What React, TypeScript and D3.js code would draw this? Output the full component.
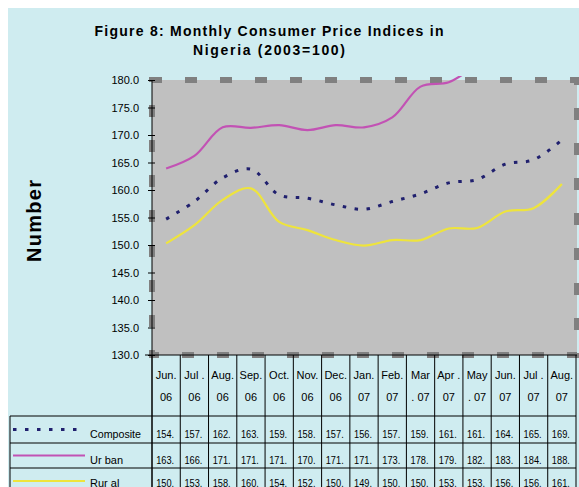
import * as d3 from "d3";
import { useEffect, useRef } from "react";

// month labels, two lines each, as shown under the plot
const months: string[][] = [
  ["Jun.", "06"], ["Jul .", "06"], ["Aug.", "06"], ["Sep.", "06"], ["Oct.", "06"],
  ["Nov.", "06"], ["Dec.", "06"], ["Jan.", "07"], ["Feb.", "07"], ["Mar", ". 07"],
  ["Apr .", "07"], ["May", ". 07"], ["Jun.", "07"], ["Jul .", "07"], ["Aug.", "07"],
];

const composite = [154.7, 157.9, 162.2, 163.8, 159.1, 158.5, 157.3, 156.5, 157.9, 159.3, 161.3, 161.9, 164.7, 165.5, 169.1];
const urban = [163.9, 166.2, 171.4, 171.3, 171.8, 170.9, 171.8, 171.4, 173.2, 178.8, 179.6, 182.5, 183.5, 184.6, 188.2];
const rural = [150.3, 153.6, 158.2, 160.3, 154.2, 152.7, 150.9, 149.9, 150.9, 150.9, 153.0, 153.1, 156.1, 156.7, 161.1];

const yTicks = [130, 135, 140, 145, 150, 155, 160, 165, 170, 175, 180];

const seriesNames = ["Composite", "Urban", "Rural"];
const seriesLabels = ["Composite", "Ur ban", "Rur al"];

export default function App() {
  const ref = useRef<SVGSVGElement | null>(null);

  useEffect(() => {
    const width = 579,
      height = 487;
    const left = 152,
      right = 576,
      top = 80,
      bottom = 355;
    const font = "'Liberation Sans', Arial, sans-serif";

    const svg = d3.select(ref.current);
    svg.selectAll("*").remove();
    svg.attr("width", width).attr("height", height).style("display", "block");

    const x = d3
      .scaleBand<number>()
      .domain(d3.range(months.length))
      .range([left, right]);
    const y = d3.scaleLinear().domain([130, 180]).range([bottom, top]);

    const styles: Record<string, { color: string; width: number; dash: string | null }> = {
      Composite: { color: "#20206e", width: 3, dash: "3.5 8.5" },
      Urban: { color: "#c252b4", width: 2.2, dash: null },
      Rural: { color: "#eee43c", width: 2.2, dash: null },
    };
    const data: Record<string, number[]> = { Composite: composite, Urban: urban, Rural: rural };

    // background
    svg.append("rect").attr("x", 8).attr("y", 8).attr("width", width - 8).attr("height", height - 8).attr("fill", "#cfecf0");

    // title
    const title = svg.append("g").attr("font-family", font).attr("font-weight", "bold").attr("font-size", 14).attr("text-anchor", "middle");
    title.append("text").attr("x", 269).attr("y", 36).attr("textLength", 349).attr("lengthAdjust", "spacing")
      .text("Figure 8: Monthly Consumer Price Indices in");
    title.append("text").attr("x", 269).attr("y", 55).attr("textLength", 152).attr("lengthAdjust", "spacing")
      .text("Nigeria (2003=100)");

    // plot area
    svg.append("rect").attr("x", left).attr("y", top).attr("width", 577 - left).attr("height", bottom - top).attr("fill", "#c0c0c0");
    svg.append("rect").attr("x", left).attr("y", top).attr("width", 577 - left).attr("height", bottom - top)
      .attr("fill", "none").attr("stroke", "#808080").attr("stroke-width", 6)
      .attr("stroke-dasharray", "12 23").attr("stroke-dashoffset", 2);

    // y axis
    const yAxis = d3.axisLeft(y).tickValues(yTicks).tickSizeInner(4).tickSizeOuter(0).tickPadding(9)
      .tickFormat((d) => d3.format(".1f")(d as number));
    const ya = svg.append("g").attr("transform", `translate(${left},0)`).call(yAxis);
    ya.select(".domain").remove();
    ya.selectAll(".tick line").attr("x1", 3).attr("x2", -4).attr("stroke", "#000");
    ya.selectAll("text").attr("font-family", font).attr("font-size", 11).attr("fill", "#000");
    svg.append("line").attr("x1", left).attr("x2", left).attr("y1", top).attr("y2", height).attr("stroke", "#000");
    svg.append("line").attr("x1", left - 7).attr("x2", 577).attr("y1", bottom).attr("y2", bottom).attr("stroke", "#000");

    // y title
    svg.append("text").attr("transform", "translate(41,221) rotate(-90)").attr("text-anchor", "middle")
      .attr("font-family", font).attr("font-weight", "bold").attr("font-size", 20)
      .attr("textLength", 82).attr("lengthAdjust", "spacing").text("Number");

    // lines
    svg.append("clipPath").attr("id", "plot-clip").append("rect")
      .attr("x", left).attr("y", top - 4).attr("width", 577 - left).attr("height", bottom - top + 4);
    const line = d3
      .line<number>()
      .x((_, i) => (x(i) as number) + x.bandwidth() / 2)
      .y((d) => y(d))
      .curve(d3.curveCatmullRom);
    const lines = svg.append("g").attr("clip-path", "url(#plot-clip)");
    ["Rural", "Urban", "Composite"].forEach((name) => {
      const s = styles[name];
      lines.append("path").datum(data[name]).attr("d", line).attr("fill", "none")
        .attr("stroke", s.color).attr("stroke-width", s.width)
        .attr("stroke-dasharray", s.dash);
    });

    // data table
    const rowTops = [416, 443, 468];
    const rowH = [27, 25, 26];
    const baselines = [437.5, 463.5, 486.5];
    const tbl = svg.append("g").attr("font-family", font).attr("font-size", 11).attr("fill", "#000");
    // vertical column lines
    d3.range(months.length + 1).forEach((i) => {
      const xx = i < months.length ? (x(i) as number) : right;
      tbl.append("line").attr("x1", xx).attr("x2", xx).attr("y1", bottom).attr("y2", height).attr("stroke", "#000");
    });
    tbl.append("line").attr("x1", 10).attr("x2", 10).attr("y1", rowTops[0]).attr("y2", height).attr("stroke", "#000");
    rowTops.forEach((ry) => {
      tbl.append("line").attr("x1", 10).attr("x2", right).attr("y1", ry).attr("y2", ry).attr("stroke", "#000");
    });
    // header
    months.forEach((m, i) => {
      const cx = (x(i) as number) + x.bandwidth() / 2;
      tbl.append("text").attr("x", cx).attr("y", 379).attr("text-anchor", "middle").text(m[0]);
      tbl.append("text").attr("x", cx).attr("y", 401).attr("text-anchor", "middle").text(m[1]);
    });
    // rows
    seriesNames.forEach((name, r) => {
      const s = styles[name];
      const cy = rowTops[r] + rowH[r] / 2;
      tbl.append("line").attr("x1", 13).attr("x2", 85).attr("y1", cy).attr("y2", cy)
        .attr("stroke", s.color).attr("stroke-width", s.width).attr("stroke-dasharray", s.dash);
      tbl.append("text").attr("x", 90).attr("y", baselines[r]).attr("textLength", name === "Composite" ? 51 : null)
        .attr("lengthAdjust", "spacingAndGlyphs").text(seriesLabels[r]);
      data[name].forEach((v, i) => {
        const cx = (x(i) as number) + x.bandwidth() / 2;
        tbl.append("text").attr("x", cx - 1).attr("y", baselines[r]).attr("text-anchor", "middle")
          .attr("textLength", 18).attr("lengthAdjust", "spacingAndGlyphs")
          .text(`${Math.floor(v)}.`);
      });
    });
  }, []);

  return (
    <div style={{ position: "absolute", left: 0, top: 0 }}>
      <svg ref={ref}></svg>
    </div>
  );
}
